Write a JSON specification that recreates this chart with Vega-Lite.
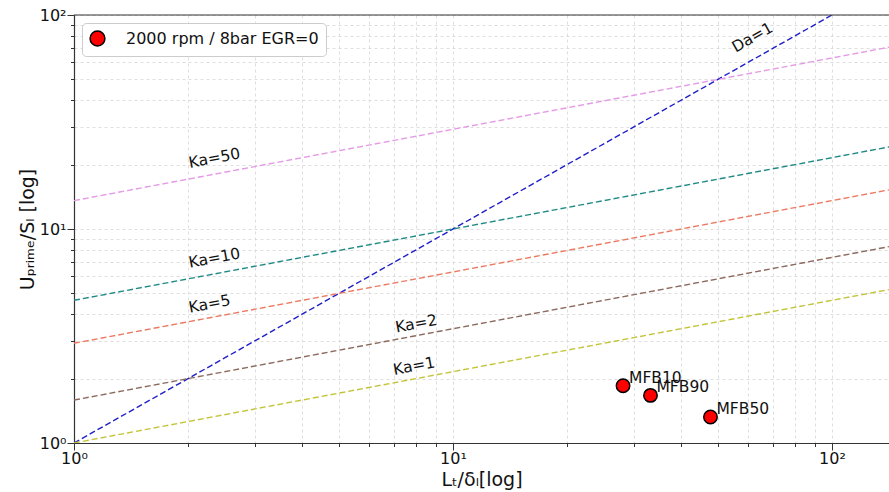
{
  "$schema": "https://vega.github.io/schema/vega-lite/v6.json",
  "width": 815,
  "height": 428,
  "autosize": {"type": "none"},
  "padding": {"left": 74, "top": 15, "right": 0, "bottom": 49},
  "background": "white",
  "config": {
    "font": "DejaVu Sans",
    "view": {"stroke": null},
    "axis": {
      "labelFont": "DejaVu Sans",
      "labelFontSize": 16,
      "labelColor": "#111",
      "titleFont": "DejaVu Sans",
      "titleFontWeight": "normal",
      "titleFontSize": 19,
      "titleColor": "#111",
      "domainColor": "#333",
      "domainWidth": 1.2,
      "tickColor": "#333",
      "tickWidth": 1,
      "gridColor": "#d6d6d6",
      "gridDash": [3, 3],
      "gridWidth": 0.8
    },
    "legend": {
      "labelFont": "DejaVu Sans",
      "labelFontSize": 16,
      "labelColor": "#111",
      "labelLimit": 400,
      "symbolStrokeColor": "black",
      "symbolStrokeWidth": 1.5
    }
  },
  "datasets": {
    "lines": [
      {"name": "Da=1", "x": 1, "y": 1},
      {"name": "Da=1", "x": 100, "y": 100},
      {"name": "Ka=1", "x": 1, "y": 1},
      {"name": "Ka=1", "x": 141.4, "y": 5.21},
      {"name": "Ka=2", "x": 1, "y": 1.587},
      {"name": "Ka=2", "x": 141.4, "y": 8.27},
      {"name": "Ka=5", "x": 1, "y": 2.924},
      {"name": "Ka=5", "x": 141.4, "y": 15.234},
      {"name": "Ka=10", "x": 1, "y": 4.642},
      {"name": "Ka=10", "x": 141.4, "y": 24.183},
      {"name": "Ka=50", "x": 1, "y": 13.572},
      {"name": "Ka=50", "x": 141.4, "y": 70.71}
    ],
    "kalabels": [
      {"label": "Ka=50", "x": 2.02, "y": 19.3},
      {"label": "Ka=10", "x": 2.02, "y": 6.59},
      {"label": "Ka=5", "x": 2.02, "y": 4.06},
      {"label": "Ka=2", "x": 7.09, "y": 3.28},
      {"label": "Ka=1", "x": 7.0, "y": 2.08}
    ],
    "dalabels": [
      {"label": "Da=1", "x": 55.7, "y": 66.7}
    ],
    "points": [
      {"series": "2000 rpm / 8bar EGR=0", "label": "MFB10", "x": 28.1, "y": 1.853},
      {"series": "2000 rpm / 8bar EGR=0", "label": "MFB90", "x": 33.2, "y": 1.669},
      {"series": "2000 rpm / 8bar EGR=0", "label": "MFB50", "x": 47.8, "y": 1.323}
    ],
    "frame": [{"y": 100}]
  },
  "layer": [
    {
      "data": {"name": "lines"},
      "mark": {"type": "line", "strokeDash": [6, 3], "strokeWidth": 1.4, "clip": true},
      "encoding": {
        "x": {
          "field": "x", "type": "quantitative",
          "scale": {"type": "log", "domain": [1, 141.4], "nice": false},
          "axis": {
            "values": [1, 2, 3, 4, 5, 6, 7, 8, 9, 10, 20, 30, 40, 50, 60, 70, 80, 90, 100],
            "labelExpr": "datum.value == 1 ? '10⁰' : datum.value == 10 ? '10¹' : datum.value == 100 ? '10²' : ''",
            "tickSize": {"condition": {"test": "datum.value == 1 || datum.value == 10 || datum.value == 100", "value": 7}, "value": 3.5},
            "labelPadding": 0,
            "labelFlush": false,
            "labelOverlap": false,
            "title": "Lₜ/δₗ[log]",
            "titlePadding": 4
          }
        },
        "y": {
          "field": "y", "type": "quantitative",
          "scale": {"type": "log", "domain": [1, 100], "nice": false},
          "axis": {
            "values": [1, 2, 3, 4, 5, 6, 7, 8, 9, 10, 20, 30, 40, 50, 60, 70, 80, 90, 100],
            "labelExpr": "datum.value == 1 ? '10⁰' : datum.value == 10 ? '10¹' : datum.value == 100 ? '10²' : ''",
            "tickSize": {"condition": {"test": "datum.value == 1 || datum.value == 10 || datum.value == 100", "value": 7}, "value": 3.5},
            "labelPadding": 1,
            "labelFlush": false,
            "labelOverlap": false,
            "title": "Uₚᵣᵢₘₑ/Sₗ [log]",
            "titlePadding": 2
          }
        },
        "detail": {"field": "name"},
        "stroke": {
          "field": "name", "type": "nominal",
          "scale": {
            "domain": ["Da=1", "Ka=1", "Ka=2", "Ka=5", "Ka=10", "Ka=50"],
            "range": ["#1f1fc8", "#c3c43a", "#8c6a5e", "#ec7a62", "#1f8a85", "#e49ae4"]
          },
          "legend": null
        }
      }
    },
    {
      "data": {"name": "frame"},
      "mark": {"type": "rule", "color": "#333", "strokeWidth": 1.2},
      "encoding": {"y": {"field": "y", "type": "quantitative"}}
    },
    {
      "data": {"name": "kalabels"},
      "mark": {"type": "text", "align": "left", "baseline": "alphabetic", "angle": -10.7, "fontSize": 15.5, "color": "#111"},
      "encoding": {
        "x": {"field": "x", "type": "quantitative"},
        "y": {"field": "y", "type": "quantitative"},
        "text": {"field": "label"}
      }
    },
    {
      "data": {"name": "dalabels"},
      "mark": {"type": "text", "align": "left", "baseline": "alphabetic", "angle": -29.5, "fontSize": 15.5, "color": "#111"},
      "encoding": {
        "x": {"field": "x", "type": "quantitative"},
        "y": {"field": "y", "type": "quantitative"},
        "text": {"field": "label"}
      }
    },
    {
      "data": {"name": "points"},
      "mark": {"type": "point", "filled": true, "shape": "circle", "size": 180, "stroke": "black", "strokeWidth": 1.5, "opacity": 1},
      "encoding": {
        "x": {"field": "x", "type": "quantitative"},
        "y": {"field": "y", "type": "quantitative"},
        "fill": {
          "field": "series", "type": "nominal",
          "scale": {"range": ["#ff0000"]},
          "legend": {
            "title": null,
            "orient": "top-left",
            "offset": 8,
            "padding": 7,
            "fillColor": "white",
            "strokeColor": "#cccccc",
            "cornerRadius": 4,
            "symbolSize": 220,
            "symbolType": "circle",
            "symbolFillColor": "#ff0000",
            "labelOffset": 20
          }
        }
      }
    },
    {
      "data": {"name": "points"},
      "mark": {"type": "text", "align": "left", "baseline": "alphabetic", "dx": 6, "dy": -3, "fontSize": 15.5, "color": "#111"},
      "encoding": {
        "x": {"field": "x", "type": "quantitative"},
        "y": {"field": "y", "type": "quantitative"},
        "text": {"field": "label"}
      }
    }
  ]
}
